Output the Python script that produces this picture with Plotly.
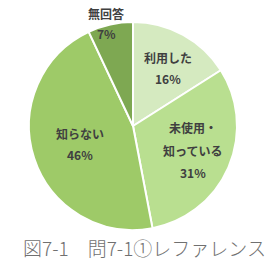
import plotly.graph_objects as go

categories = ["利用した", "未使用・知っている", "知らない", "無回答"]
values = [16, 31, 46, 7]
colors = ["#d5eac0", "#b9df90", "#9eca68", "#7ea852"]
label_lines = [["利用した", "16%"], ["未使用・", "知っている", "31%"], ["知らない", "46%"], ["無回答", "7%"]]
label_px = [[(168, 57), (168, 78)], [(193, 127), (192, 150), (193, 172)], [(80, 133), (80, 154)], [(106, 13), (106, 34)]]
caption = "図7-1　問7-1①レファレンス"

W, H = 277, 271
fig = go.Figure(go.Pie(
    labels=categories, values=values, sort=False, direction="clockwise", rotation=0,
    marker=dict(colors=colors, line=dict(color="white", width=2)),
    textinfo="none", hoverinfo="label+percent", showlegend=False,
    domain=dict(x=[29 / W, 237 / W], y=[1 - 230 / H, 1 - 22 / H]),
))

anns = []
for lines, pts in zip(label_lines, label_px):
    for t, (px, py) in zip(lines, pts):
        anns.append(dict(text=t, x=px / W, y=1 - py / H, xref="paper", yref="paper",
                         xanchor="center", yanchor="middle", showarrow=False,
                         font=dict(size=12, color="#404040", family="Noto Sans CJK JP", weight=700)))
anns.append(dict(text=caption, x=144 / W, y=1 - 247 / H, xref="paper", yref="paper",
                 xanchor="center", yanchor="middle", showarrow=False,
                 font=dict(size=19, color="#707070", family="Noto Sans CJK JP", weight=300)))

fig.update_layout(width=W, height=H, margin=dict(l=0, r=0, t=0, b=0),
                  paper_bgcolor="white", plot_bgcolor="white", annotations=anns)
fig.write_html("out.html")
